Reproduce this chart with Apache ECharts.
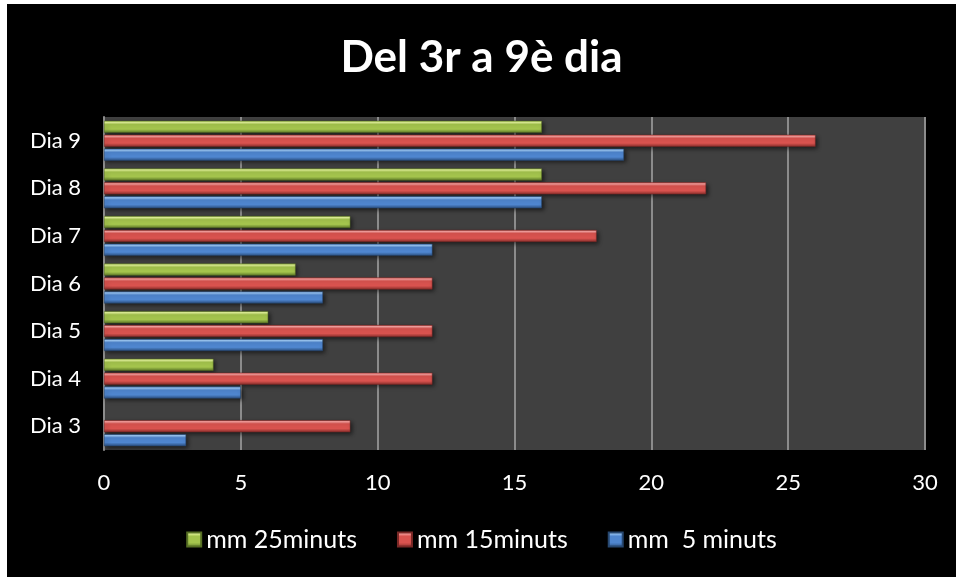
<!DOCTYPE html>
<html>
<head>
<meta charset="utf-8">
<script src="https://cdn.jsdelivr.net/npm/echarts@6/dist/echarts.min.js"></script>
<style>
  html, body { margin: 0; padding: 0; background: #ffffff; }
  #chart { position: absolute; left: 7px; top: 4px; width: 949px; height: 573px; background: #000000; }
</style>
</head>
<body>
<div id="chart"></div>
<script>
// Days measured, bottom to top
const categories = ['Dia 3', 'Dia 4', 'Dia 5', 'Dia 6', 'Dia 7', 'Dia 8', 'Dia 9'];
// Millimetres reached after each soaking time
const mm5 = [3, 5, 8, 8, 12, 16, 19];
const mm15 = [9, 12, 12, 12, 18, 22, 26];
const mm25 = [null, 4, 6, 7, 9, 16, 16];
const seriesNames = ['mm 25minuts', 'mm 15minuts', 'mm  5 minuts'];

const FONT = 'Lato, "Open Sans", sans-serif';

// Bevelled look: light top edge, saturated middle, dark bottom edge
function bevel(light, mid, dark) {
  return new echarts.graphic.LinearGradient(0, 0, 0, 1, [
    { offset: 0, color: mid },
    { offset: 0.12, color: light },
    { offset: 0.3, color: mid },
    { offset: 0.7, color: mid },
    { offset: 1, color: dark }
  ]);
}
const blueFill = bevel('#9cc8f5', '#4f86cf', '#2b4f80');
const redFill = bevel('#f7a3a1', '#d9534f', '#8a2e2b');
const greenFill = bevel('#e4f59a', '#a4c44d', '#5e7a28');

function barSeries(name, data, fill, edge) {
  return {
    name: name,
    type: 'bar',
    data: data,
    barWidth: 12,
    barGap: '16%',
    itemStyle: {
      color: fill,
      borderColor: edge,
      borderWidth: 0.5,
      shadowColor: 'rgba(0,0,0,0.55)',
      shadowBlur: 4,
      shadowOffsetX: 2,
      shadowOffsetY: 2
    }
  };
}

const chart = echarts.init(document.getElementById('chart'));
chart.setOption({
  backgroundColor: '#000000',
  animation: false,
  title: {
    text: 'Del 3r a 9è dia',
    left: 'center',
    top: 27,
    textStyle: { color: '#ffffff', fontFamily: FONT, fontWeight: 'bold', fontSize: 44 }
  },
  legend: {
    data: seriesNames,
    bottom: 20,
    left: 'center',
    itemWidth: 14,
    itemHeight: 14,
    itemGap: 40,
    icon: 'rect',
    textStyle: { color: '#ffffff', fontFamily: FONT, fontSize: 25 }
  },
  grid: {
    left: 97,
    right: 31,
    top: 113,
    bottom: 127,
    show: true,
    backgroundColor: '#404040',
    borderWidth: 0
  },
  xAxis: {
    type: 'value',
    min: 0,
    max: 30,
    interval: 5,
    axisLine: { show: false },
    axisTick: { show: false },
    splitLine: { show: true, lineStyle: { color: '#8c8c8c', width: 2 } },
    axisLabel: { color: '#ffffff', fontFamily: FONT, fontSize: 22, margin: 22 }
  },
  yAxis: {
    type: 'category',
    data: categories,
    axisLine: { show: true, lineStyle: { color: '#8c8c8c', width: 2 } },
    axisTick: { show: false },
    axisLabel: { color: '#ffffff', fontFamily: FONT, fontSize: 22, margin: 23 }
  },
  // Listed top to bottom within each day: 25, 15, 5 minutes
  series: [
    barSeries(seriesNames[0], mm25, greenFill, '#566f24'),
    barSeries(seriesNames[1], mm15, redFill, '#7a2826'),
    barSeries(seriesNames[2], mm5, blueFill, '#27476f')
  ]
});
</script>
</body>
</html>
